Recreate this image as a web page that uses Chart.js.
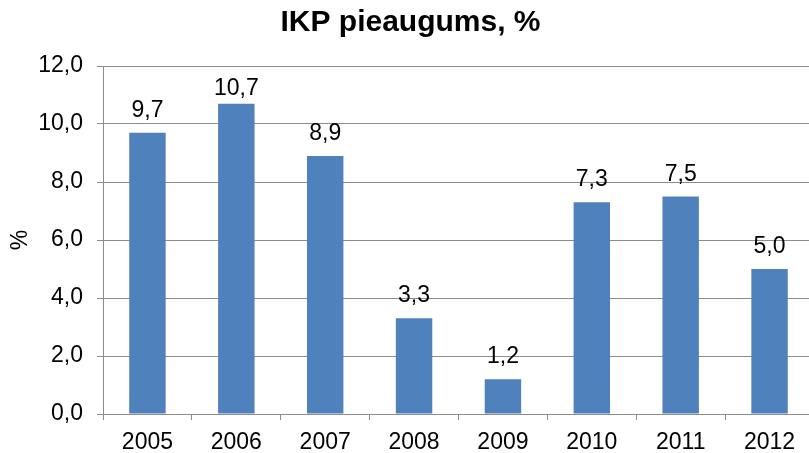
<!DOCTYPE html>
<html>
<head>
<meta charset="utf-8">
<script src="https://cdn.jsdelivr.net/npm/chart.js@4"></script>
<style>
  html, body { margin: 0; padding: 0; background: #fff; overflow: hidden; }
  #wrap { width: 816px; height: 453px; }
</style>
</head>
<body>
<div id="wrap"><canvas id="myChart" width="816" height="453"></canvas></div>
<script>
// dati no attēla
const gadi = ['2005', '2006', '2007', '2008', '2009', '2010', '2011', '2012'];
const pieaugums = [9.7, 10.7, 8.9, 3.3, 1.2, 7.3, 7.5, 5.0];
const yTicks = [0, 2, 4, 6, 8, 10, 12];

const fmt = v => v.toFixed(1).replace('.', ',');
const FONT = '"Liberation Sans", Arial, sans-serif';

// vērtību uzraksti virs stabiņiem (paliek grafika laukuma iekšpusē)
const valueLabels = {
  id: 'valueLabels',
  afterDatasetsDraw(chart) {
    const ctx = chart.ctx;
    const meta = chart.getDatasetMeta(0);
    const top = chart.chartArea.top;
    ctx.save();
    ctx.font = '23px ' + FONT;
    ctx.fillStyle = '#000';
    ctx.textAlign = 'center';
    ctx.textBaseline = 'alphabetic';
    meta.data.forEach((bar, i) => {
      const y = Math.max(bar.y - 16, top + 29);
      ctx.fillText(fmt(pieaugums[i]), bar.x, y);
    });
    ctx.restore();
  }
};

const ctx = document.getElementById('myChart');
new Chart(ctx, {
  type: 'bar',
  data: {
    labels: gadi,
    datasets: [{
      label: 'IKP pieaugums, %',
      data: pieaugums,
      backgroundColor: '#4F81BD',
      barPercentage: 0.41,
      categoryPercentage: 1
    }]
  },
  options: {
    responsive: false,
    animation: false,
    layout: { padding: { top: 0, left: 7, right: 2, bottom: 0 } },
    plugins: {
      legend: { display: false },
      tooltip: { enabled: false },
      title: {
        display: true,
        text: 'IKP pieaugums, %',
        color: '#000',
        font: { family: FONT, size: 30, weight: 'bold' },
        padding: { top: 5, bottom: 25 }
      }
    },
    scales: {
      x: {
        afterFit: axis => { axis.height = 39; },
        grid: {
          offset: true,
          drawOnChartArea: false,
          drawTicks: true,
          tickLength: 6,
          color: '#8c8c8c'
        },
        border: { color: '#8c8c8c', width: 1 },
        ticks: {
          color: '#000',
          padding: 11,
          font: { family: FONT, size: 23, lineHeight: 1 }
        }
      },
      y: {
        min: 0,
        max: 12,
        afterFit: axis => { axis.width = 96; },
        afterBuildTicks: axis => { axis.ticks = yTicks.map(v => ({ value: v })); },
        grid: { color: '#8c8c8c', tickLength: 6 },
        border: { color: '#8c8c8c', width: 1 },
        ticks: {
          color: '#000',
          padding: 14,
          callback: v => fmt(v),
          font: { family: FONT, size: 23 }
        },
        title: {
          display: true,
          text: '%',
          color: '#000',
          padding: { top: 0, bottom: 2 },
          font: { family: FONT, size: 23 }
        }
      }
    }
  },
  plugins: [valueLabels]
});
</script>
</body>
</html>
